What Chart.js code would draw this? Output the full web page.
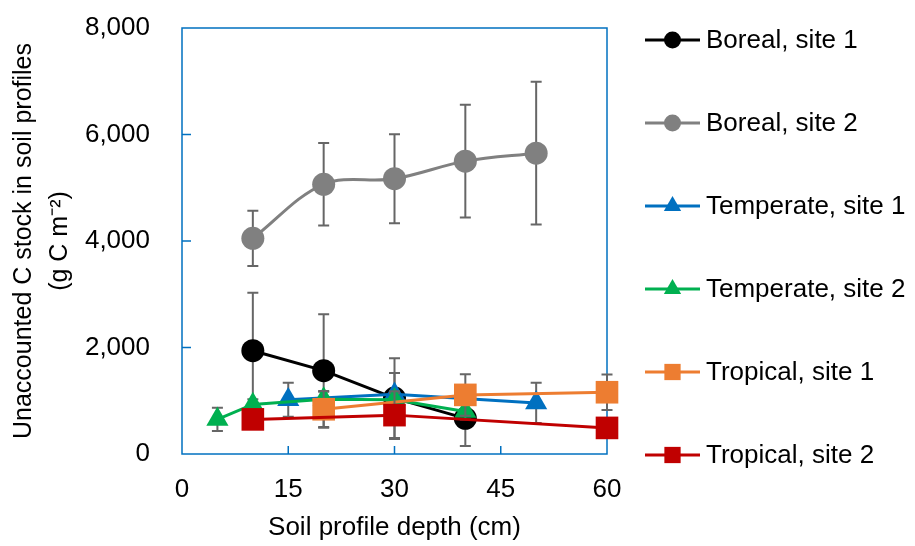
<!DOCTYPE html>
<html>
<head>
<meta charset="utf-8">
<script src="https://cdn.jsdelivr.net/npm/chart.js@4.4.0/dist/chart.umd.min.js"></script>
<style>
  html, body { margin: 0; padding: 0; background: #fff; }
</style>
</head>
<body>
<canvas id="chart" width="915" height="546"></canvas>
<script>
// values (g C m-2), errors are +/- half lengths
const names = ['Boreal, site 1', 'Boreal, site 2', 'Temperate, site 1', 'Temperate, site 2', 'Tropical, site 1', 'Tropical, site 2'];

const boreal1Depth = [10, 20, 30, 40];
const boreal1Stock = [1940, 1565, 1050, 670];
const boreal1Err = [1090, 1060, 750, 520];

const boreal2Depth = [10, 20, 30, 40, 50];
const boreal2Stock = [4050, 5065, 5170, 5500, 5650];
const boreal2Err = [520, 775, 835, 1060, 1340];

const temperate1Depth = [15, 30, 50];
const temperate1Stock = [1020, 1120, 960];
const temperate1Err = [320, 400, 380];

const temperate2Depth = [5, 10, 20, 30, 40];
const temperate2Stock = [650, 930, 1030, 1020, 800];
const temperate2Err = [220, 100, 140, 120, 150];

const tropical1Depth = [20, 40, 60];
const tropical1Stock = [840, 1110, 1160];
const tropical1Err = [345, 390, 335];

const tropical2Depth = [10, 30, 60];
const tropical2Stock = [650, 730, 490];
const tropical2Err = [120, 450, 120];

const xTicks = [0, 15, 30, 45, 60];
const yTicks = [0, 2000, 4000, 6000, 8000];

const FONT = "'Liberation Sans', Arial, sans-serif";
const AXIS_BLUE = '#0070C0';

const colors = ['#000000', '#808080', '#0070C0', '#00B050', '#ED7D31', '#C00000'];
const styles = ['circle', 'circle', 'triangle', 'triangle', 'rect', 'rect'];
const radii = [11.5, 11.5, 12.8, 12.8, 16, 16];
const legendRadii = [8.5, 8.5, 10, 10, 11.5, 11.5];

const depths = [boreal1Depth, boreal2Depth, temperate1Depth, temperate2Depth, tropical1Depth, tropical2Depth];
const stocks = [boreal1Stock, boreal2Stock, temperate1Stock, temperate2Stock, tropical1Stock, tropical2Stock];
const errs = [boreal1Err, boreal2Err, temperate1Err, temperate2Err, tropical1Err, tropical2Err];

const datasets = names.map((name, i) => ({
    label: name,
    data: depths[i].map((d, j) => ({ x: d, y: stocks[i][j] })),
    errors: errs[i],
    borderColor: colors[i],
    backgroundColor: colors[i],
    pointBackgroundColor: colors[i],
    pointBorderColor: colors[i],
    pointBorderWidth: 0,
    pointStyle: styles[i],
    pointRadius: radii[i],
    pointHoverRadius: radii[i],
    borderWidth: 3,
    tension: i === 1 ? 0.35 : 0,
    clip: false,
    order: names.length - i
}));

// error bars drawn just under each series' own line/markers
const errorBars = {
    id: 'errorBars',
    beforeDatasetDraw(chart, args) {
        const ds = chart.data.datasets[args.index];
        const y = chart.scales.y;
        const ctx = chart.ctx;
        ctx.save();
        ctx.strokeStyle = '#666666';
        ctx.lineWidth = 2;
        args.meta.data.forEach((pt, j) => {
            const v = ds.data[j].y, e = ds.errors[j];
            const top = y.getPixelForValue(v + e), bot = y.getPixelForValue(v - e);
            ctx.beginPath();
            ctx.moveTo(pt.x, top); ctx.lineTo(pt.x, bot);
            ctx.moveTo(pt.x - 5.5, top); ctx.lineTo(pt.x + 5.5, top);
            ctx.moveTo(pt.x - 5.5, bot); ctx.lineTo(pt.x + 5.5, bot);
            ctx.stroke();
        });
        ctx.restore();
    }
};

// blue frame with inward tick marks, like the Excel plot area
const frame = {
    id: 'frame',
    beforeDatasetsDraw(chart) {
        const { ctx, chartArea: a, scales } = chart;
        ctx.save();
        ctx.strokeStyle = AXIS_BLUE;
        ctx.lineWidth = 1.5;
        ctx.strokeRect(a.left, a.top, a.right - a.left, a.bottom - a.top);
        ctx.beginPath();
        yTicks.slice(1, -1).forEach(v => {
            const py = scales.y.getPixelForValue(v);
            ctx.moveTo(a.left, py); ctx.lineTo(a.left + 9, py);
        });
        xTicks.slice(1, -1).forEach(v => {
            const px = scales.x.getPixelForValue(v);
            ctx.moveTo(px, a.bottom); ctx.lineTo(px, a.bottom - 8);
        });
        ctx.stroke();
        ctx.restore();
    }
};

// Excel-style legend: line sample with marker
const lineLegend = {
    id: 'lineLegend',
    afterDraw(chart) {
        const ctx = chart.ctx;
        ctx.save();
        chart.data.datasets.forEach((ds, i) => {
            const cy = 40 + i * 83;
            ctx.strokeStyle = ds.borderColor;
            ctx.fillStyle = ds.backgroundColor;
            ctx.lineWidth = 3;
            ctx.beginPath();
            ctx.moveTo(645, cy); ctx.lineTo(700, cy);
            ctx.stroke();
            Chart.helpers.drawPoint(ctx, { pointStyle: ds.pointStyle, radius: legendRadii[i], rotation: 0, borderWidth: 0 }, 672.5, cy);
            ctx.fillStyle = '#000';
            ctx.font = '26px ' + FONT;
            ctx.textBaseline = 'middle';
            ctx.textAlign = 'left';
            ctx.fillText(ds.label, 706, cy + 1);
        });
        ctx.restore();
    }
};

new Chart(document.getElementById('chart'), {
    type: 'line',
    data: { datasets },
    plugins: [errorBars, frame, lineLegend],
    options: {
        responsive: false,
        animation: false,
        layout: { padding: { top: 28, right: 308, left: 0, bottom: 0 } },
        plugins: { legend: { display: false }, tooltip: { enabled: false } },
        font: { family: FONT },
        scales: {
            x: {
                type: 'linear',
                min: 0,
                max: 60,
                afterBuildTicks: s => { s.ticks = xTicks.map(v => ({ value: v })); },
                afterFit: s => { s.height = 92; },
                grid: { display: false, drawTicks: false },
                border: { display: false },
                ticks: { color: '#000', padding: 20, font: { family: FONT, size: 26 } },
                title: {
                    display: true,
                    text: 'Soil profile depth (cm)',
                    color: '#000',
                    padding: { top: 0, bottom: 3 },
                    font: { family: FONT, size: 26 }
                }
            },
            y: {
                min: 0,
                max: 8000,
                afterBuildTicks: s => { s.ticks = yTicks.map(v => ({ value: v })); },
                afterFit: s => { s.width = 182; s.paddingTop = 0; s.paddingBottom = 0; },
                grid: { display: false, drawTicks: false },
                border: { display: false },
                ticks: {
                    color: '#000',
                    padding: 32,
                    font: { family: FONT, size: 26 },
                    callback: v => v.toLocaleString('en-US')
                },
                title: {
                    display: true,
                    text: ['Unaccounted C stock in soil profiles', '(g C m\u207B\u00B2)'],
                    color: '#000',
                    padding: { top: 6, bottom: 0 },
                    font: { family: FONT, size: 25, lineHeight: 1.45 }
                }
            }
        }
    }
});
</script>
</body>
</html>
